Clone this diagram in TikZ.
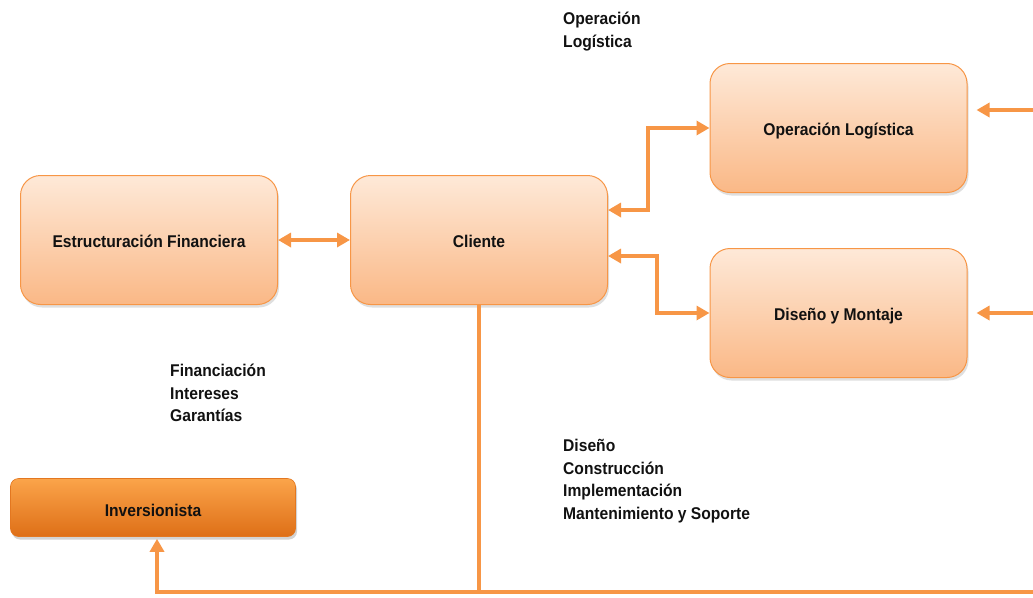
\documentclass[tikz,border=0pt]{standalone}
\usepackage{fontspec}
\setmainfont{Liberation Sans}[FakeStretch=0.92]
\usetikzlibrary{arrows.meta,shadows}
\definecolor{accent}{HTML}{F79646}
\definecolor{boxtop}{HTML}{FEE9D8}
\definecolor{boxbot}{HTML}{FAB886}
\definecolor{invtop}{HTML}{FBA44A}
\definecolor{invbot}{HTML}{DE6F17}
\definecolor{ink}{HTML}{111111}
\begin{document}
\begin{tikzpicture}[x=1pt,y=-1pt,
  font=\fontsize{17}{22.5}\selectfont\bfseries,
  text=ink,
  stagebox/.style={draw=accent, line width=1pt, rounded corners=20pt,
    minimum width=257pt, minimum height=129pt,
    text height=15pt, text depth=0pt,
    top color=boxtop, bottom color=boxbot,
    drop shadow={opacity=0.25, shadow xshift=1.5pt, shadow yshift=-3pt}},
  investorbox/.style={draw=invbot!80!accent, line width=0.6pt, rounded corners=8pt,
    minimum width=285pt, minimum height=58pt,
    text height=17pt, text depth=0pt,
    top color=invtop, bottom color=invbot,
    drop shadow={opacity=0.35, shadow xshift=1.5pt, shadow yshift=-3pt}},
  link/.style={draw=accent, line width=4pt},
  arr/.style={link, -{Triangle[length=13pt,width=14pt]}},
  dbl/.style={link, {Triangle[length=13pt,width=14pt]}-{Triangle[length=13pt,width=14pt]}},
  lbl/.style={anchor=north west, align=left, inner sep=0pt}
]
\useasboundingbox (0,0) rectangle (1033,597);

% stakeholder boxes
\node[stagebox] (fin) at (149,240) {Estructuración Financiera};
\node[stagebox] (cli) at (479,240) {Cliente};
\node[stagebox] (op)  at (838.5,128) {Operación Logística};
\node[stagebox] (dis) at (838.5,313) {Diseño y Montaje};
\node[investorbox] (inv) at (153,507.5) {Inversionista};

% free ends of the incoming lines
\coordinate (opin)  at (1040,110);
\coordinate (disin) at (1040,313);
\coordinate (busR)  at (1040,592);
\coordinate (busL)  at (157,592);

% connectors
\draw[dbl] (fin.east) -- (cli.west);
\draw[dbl] ([yshift=30pt]cli.east) -- ++(40,0) |- (op.west);
\draw[dbl] ([yshift=-16pt]cli.east) -- ++(49,0) |- (dis.west);
\draw[arr] (opin) -- ([xshift=9pt,yshift=18pt]op.east);
\draw[arr] (disin) -- ([xshift=9pt]dis.east);
\draw[link] (cli.south) -- (cli.south |- busL);
\draw[arr] (busR) -- (busL) -- ([xshift=4pt,yshift=-2pt]inv.south);

% flow labels
\node[lbl] (lop)  at (563,12)  {Operación\\Logística};
\node[lbl] (lfin) at (170,364) {Financiación\\Intereses\\Garantías};
\node[lbl] (ldis) at (563,439) {Diseño\\Construcción\\Implementación\\Mantenimiento y Soporte};
\end{tikzpicture}
\end{document}
